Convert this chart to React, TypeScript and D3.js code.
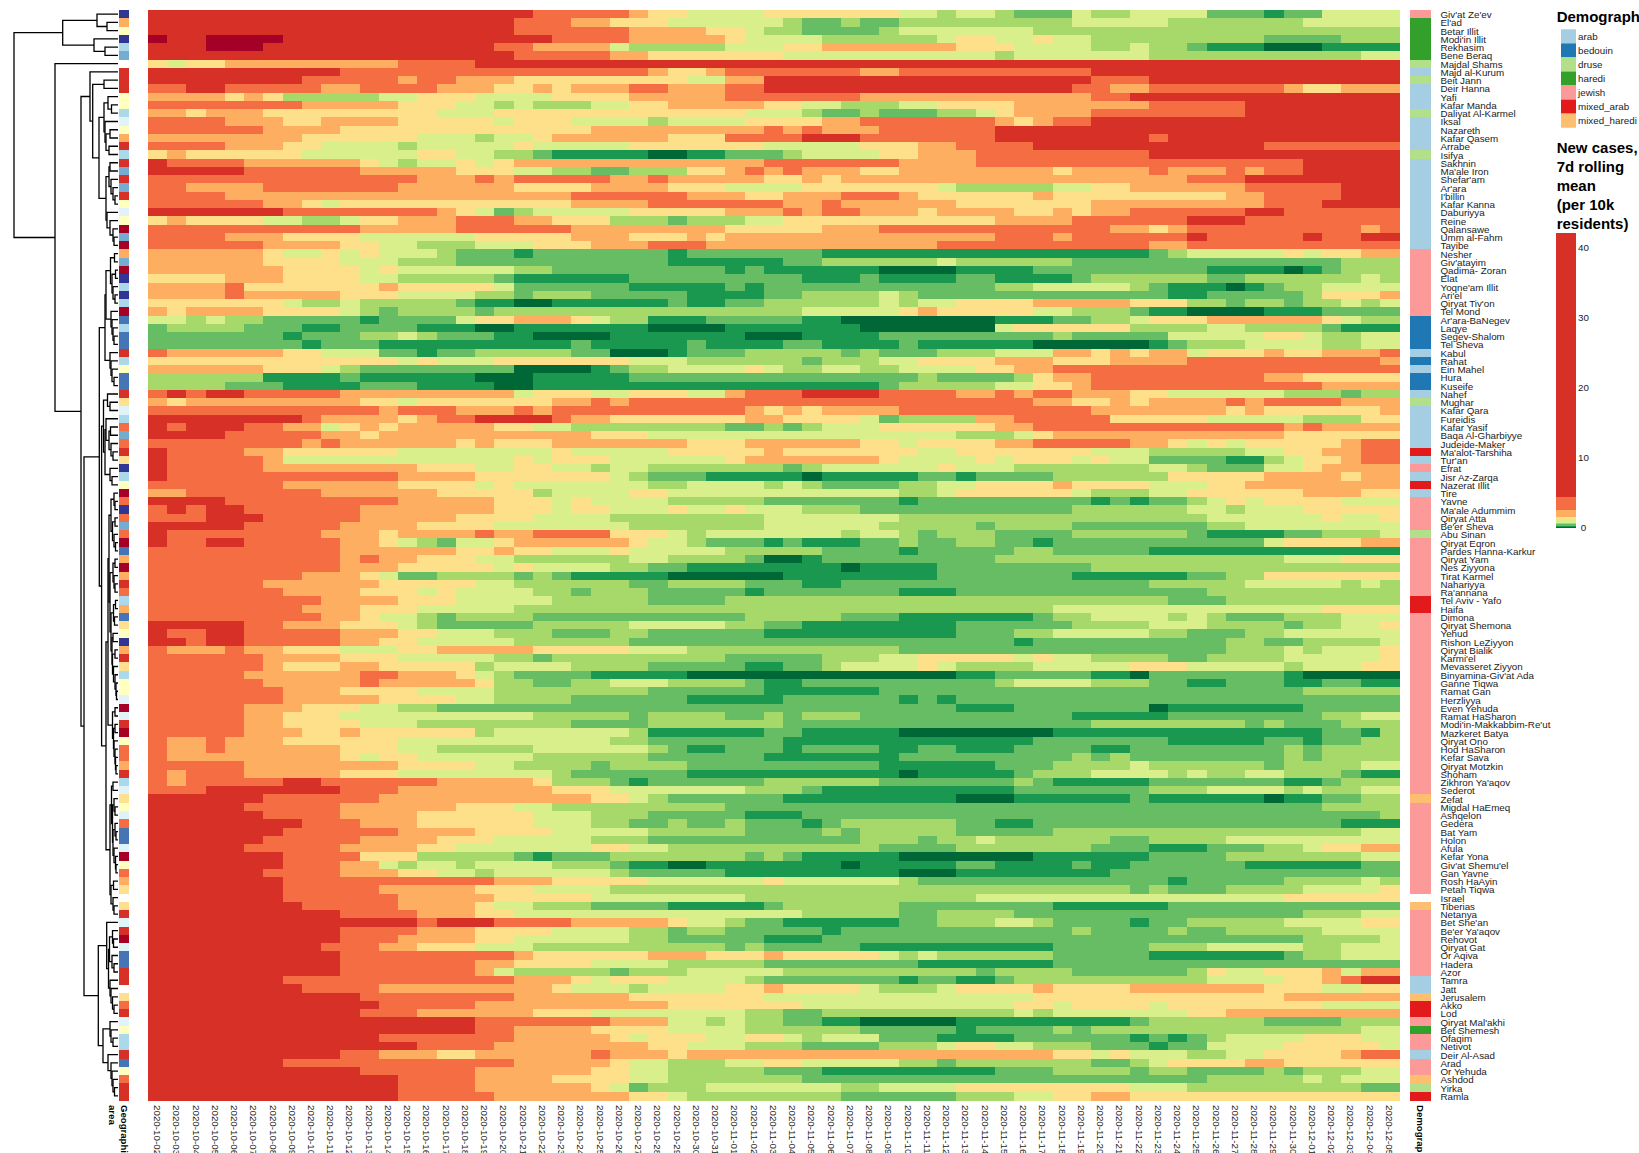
import React, {useRef, useEffect} from 'react';
import * as d3 from 'd3';

const rowNames = ["Giv'at Ze'ev","El'ad","Betar Illit","Modi'in Illit","Rekhasim","Bene Beraq","Majdal Shams","Majd al-Kurum","Beit Jann","Deir Hanna","Yafi","Kafar Manda","Daliyat Al-Karmel","Iksal","Nazareth","Kafar Qasem","Arrabe","Isifya","Sakhnin","Ma'ale Iron","Shefar'am","Ar'ara","I'billin","Kafar Kanna","Daburiyya","Reine","Qalansawe","Umm al-Fahm","Tayibe","Nesher","Giv'atayim","Qadima- Zoran","Elat","Yoqne'am Illit","Ari'el","Qiryat Tiv'on","Tel Mond","Ar'ara-BaNegev","Laqye","Segev-Shalom","Tel Sheva","Kabul","Rahat","Ein Mahel","Hura","Kuseife","Nahef","Mughar","Kafar Qara","Fureidis","Kafar Yasif","Baqa Al-Gharbiyye","Judeide-Maker","Ma'alot-Tarshiha","Tur'an","Efrat","Jisr Az-Zarqa","Nazerat Illit","Tire","Yavne","Ma'ale Adummim","Qiryat Atta","Be'er Sheva","Abu Sinan","Qiryat Eqron","Pardes Hanna-Karkur","Qiryat Yam","Nes Ziyyona","Tirat Karmel","Nahariyya","Ra'annana","Tel Aviv - Yafo","Haifa","Dimona","Qiryat Shemona","Yehud","Rishon LeZiyyon","Qiryat Bialik","Karmi'el","Mevasseret Ziyyon","Binyamina-Giv'at Ada","Ganne Tiqwa","Ramat Gan","Herzliyya","Even Yehuda","Ramat HaSharon","Modi'in-Makkabbim-Re'ut","Mazkeret Batya","Qiryat Ono","Hod HaSharon","Kefar Sava","Qiryat Motzkin","Shoham","Zikhron Ya'aqov","Sederot","Zefat","Migdal HaEmeq","Ashqelon","Gedera","Bat Yam","Holon","Afula","Kefar Yona","Giv'at Shemu'el","Gan Yavne","Rosh HaAyin","Petah Tiqwa","Israel","Tiberias","Netanya","Bet She'an","Be'er Ya'aqov","Rehovot","Qiryat Gat","Or Aqiva","Hadera","Azor","Tamra","Jatt","Jerusalem","Akko","Lod","Qiryat Mal'akhi","Bet Shemesh","Ofaqim","Netivot","Deir Al-Asad","Arad","Or Yehuda","Ashdod","Yirka","Ramla"];

const dates = d3.utcDay.range(new Date(Date.UTC(2020,9,2)), new Date(Date.UTC(2020,11,6))).map(d3.utcFormat("%Y-%m-%d"));

// colour class per town and day, "level then count" runs: "113" = class 1 for 13 days
const caseBinRows = [
"113 17 25 31 42 54 47 52 61 52 61 73 51 62 54 73 81 72 54",
"113 16 23 32 43 56 61 72 61 72 69 55 67 55",
"113 16 26 34 42 51 62 74 61 57 619",
"01 12 04 16 18 24 35 41 54 66 51 42 52 41 52 69 74 63",
"13 03 17 15 22 34 51 65 53 42 37 43 54 62 51 62 71 83 93 84",
"113 16 25 32 47 511 61 57 611 52",
"41 51 42 39 24 148",
"110 23 213 31 42 31 27 32 210 116",
"18 25 31 22 33 49 52 32 117 23 113",
"22 12 25 32 22 22 33 42 31 41 33 22 33 22 116 22 32 27 31 42 33",
"34 41 31 41 65 51 51 43 54 44 35 27 312 22 114",
"28 35 43 52 61 51 63 52 42 35 42 52 63 52 44 37 25 18",
"32 41 33 47 42 53 413 53 61 72 61 73 62 51 41 34 28 18",
"24 33 42 34 45 51 43 54 61 54 44 32 27 31 41 31 22 116",
"26 34 43 410 39 21 31 21 33 26 121",
"38 45 41 53 61 52 41 36 43 24 13 27 18 21 112",
"24 33 42 54 61 55 41 55 47 55 43 32 24 112 27",
"41 31 46 55 51 42 52 62 71 85 92 82 73 61 54 42 33 29 113",
"11 24 36 41 51 61 52 41 51 41 313 27 34 217 15",
"15 26 32 33 43 52 62 72 63 42 31 21 31 21 33 42 38 41 34 21 33 21 31 22 15",
"213 21 33 21 31 25 32 21 35 42 31 41 318 23 18",
"22 34 27 36 44 34 43 54 47 51 65 52 42 36 25 13",
"24 39 39 26 33 42 33 23 31 46 31 49 32 24 13",
"26 32 41 51 43 49 34 27 32 21 36 47 39 23 14",
"17 26 22 31 41 51 71 61 55 45 33 21 31 22 33 41 34 42 31 41 32 26 12 26",
"41 31 44 52 62 51 42 33 23 32 43 63 71 63 52 411 34 26 13 28",
"211 32 33 26 38 45 33 212 32 41 31 29 31 21",
"24 33 44 52 54 45 33 43 31 41 314 23 31 26 11 25 11 22 12",
"26 34 42 51 51 63 53 43 33 23 312 211 32 211",
"36 41 52 41 51 41 51 52 61 73 81 77 81 77 817 71 61 55 41 51 42 32",
"36 44 53 63 711 86 72 66 51 66 714 63",
"37 44 51 41 56 62 79 81 71 86 94 84 79 84 91 81 71 63",
"44 33 44 52 65 71 86 79 83 71 84 72 84 71 66 72 66 51 61",
"34 21 47 31 45 51 76 85 71 81 712 62 55 61 71 83 91 81 71 62 54",
"34 21 35 43 54 62 71 63 75 84 72 64 51 61 713 82 75 61 43 31",
"47 51 62 51 62 63 71 82 92 86 71 82 72 66 51 61 52 44 35 43 62 71 62 71 62 51 61 51",
"31 41 34 44 51 61 71 64 71 616 55 41 31 45 52 63 71 82 94 83 74",
"52 61 51 62 75 81 71 73 51 42 33 41 51 62 83 75 82 98 83 72 62 51 43 36 41 51 62",
"71 64 73 82 73 71 83 92 87 94 87 97 51 46 64 52 64 71 83",
"77 81 73 62 51 61 73 82 94 87 93 84 79 61 75 55 42 51 62 52",
"78 81 73 81 89 71 85 71 84 72 84 71 86 96 81 71 63 54 62 52",
"21 36 42 53 71 71 81 72 65 72 93 81 73 65 71 61 73 63 53 32 41 31 41 32 51 43 31 42 33 21",
"413 51 41 53 47 53 66 71 63 52 44 33 43 34 210 31",
"36 43 51 61 72 76 94 81 71 62 54 41 51 62 52 62 54 42 32 218",
"66 84 71 82 84 93 85 715 61 74 61 41 32 29 32 45",
"64 73 84 72 71 84 92 818 71 65 52 42 31 212 34",
"21 11 21 12 25 33 36 51 43 52 43 52 31 23 14 24 32 21 31 22 33 42 56 63 71 62",
"31 41 39 42 51 47 32 21 31 221 32 42 31 41 34 21 31 24 33",
"212 31 23 33 21 31 210 31 41 31 41 34 210 37 41 31 46 31",
"18 21 34 41 31 22 14 21 32 47 32 44 51 71 64 32 25 45 55 63 42",
"11 21 13 22 32 51 41 31 41 35 42 52 68 72 61 71 61 53 46 32 213 31 21 34",
"14 25 32 41 31 310 43 516 63 51 41 312 46",
"28 31 21 33 33 41 31 43 37 43 36 42 51 44 32 25 32 41 51 41 51 45 31 22",
"11 24 32 46 58 41 55 45 31 47 52 47 53 65 52 42 32 22",
"11 25 31 56 56 41 51 43 56 41 37 41 54 41 51 43 51 41 52 74 82 61 51 42 31 22",
"11 25 37 31 43 52 42 52 61 52 67 71 61 56 41 53 67 52 61 73 52 41 34",
"11 212 34 47 51 61 73 85 91 85 72 81 74 66 45 34 41 32",
"27 36 44 51 41 57 62 54 61 51 61 74 62 52 44 31 44 53 42 38",
"32 27 34 32 45 61 54 42 512 62 51 46 51 63 52 46 33 42",
"14 29 35 43 51 41 54 65 77 81 79 81 71 81 72 61 51 41 51 44 53",
"21 11 21 12 26 32 35 43 51 42 53 41 52 41 53 63 711 66 52 61 53 45",
"23 13 25 32 33 44 54 68 57 616 56 41 52 41",
"15 25 33 31 44 57 67 56 65 71 64 77 62 58",
"11 28 33 41 34 21 32 24 43 51 61 57 61 52 61 71 63 74 66 71 84 72 63 51",
"11 22 12 25 32 41 51 61 71 52 41 36 41 52 61 73 81 71 83 72 61 72 62 72 81 711 51 44 32",
"210 33 33 42 31 42 53 41 55 65 74 81 75 62 75 813",
"210 31 21 31 31 43 52 66 52 64 71 92 81 79 615 53 43",
"210 33 45 51 41 54 62 72 88 91 84 78 616",
"28 33 41 51 72 64 71 61 71 85 96 88 77 86 72 62 47",
"26 36 41 44 52 66 72 64 73 82 716 65 55 61 51 61",
"27 34 42 41 51 41 54 62 71 63 75 81 77 83 713 610",
"29 34 43 55 65 74 623 73 69",
"28 33 42 41 55 628 514 44",
"29 32 41 51 51 61 71 64 711 65 73 87 71 62 54 61 51 61 73 63 53",
"15 22 33 43 51 61 75 65 55 62 72 88 76 64 53 64 71 62 52 41",
"11 22 12 25 33 42 53 63 73 62 76 810 73 62 55 62 73 62 56",
"12 21 12 25 32 41 41 55 66 720 81 710 62 72 64 51",
"21 33 21 32 43 53 42 35 45 53 611 717 63 51 61 53 41",
"26 34 43 55 62 71 69 75 63 52 45 51 41 52 64 72 64 55 41",
"26 31 43 32 41 44 61 54 64 75 82 72 61 54 41 51 64 55 43 55 61 53 42",
"25 36 22 33 41 51 61 74 85 914 82 75 82 91 77 81 95",
"26 35 21 31 34 41 62 72 62 53 64 71 82 710 61 54 63 72 82 73 82 72 82",
"27 33 43 41 54 68 76 86 722 65",
"27 35 41 43 52 64 76 85 76 81 71 81 723",
"25 33 43 52 62 727 83 77 91 87 75",
"25 32 43 53 57 65 71 64 72 61 71 63 711 85 78 62 52",
"25 32 44 52 51 68 74 67 716 68 71 61 73 63",
"25 33 42 31 42 44 61 57 61 86 72 85 98 814 72 81 61",
"21 32 21 33 46 511 62 77 813 77 85 72 81 72 62",
"21 32 21 36 43 52 65 56 61 71 82 73 81 74 82 72 83 74 82 78 61 71 64",
"21 39 41 51 41 41 56 66 76 87 79 61 71 61 78 61 71 64",
"25 38 44 52 64 71 64 710 86 73 64 51 66 71 64 52",
"21 31 23 35 43 58 61 76 811 91 85 71 63 54 61 51 62 52 63 71 82",
"21 31 25 12 24 22 35 41 63 71 81 76 66 77 61 71 85 77 82 71 63",
"23 17 23 38 43 57 63 71 810 77 63 54 61 51 62 52",
"16 26 31 310 42 51 61 76 89 93 86 71 86 91 82 72 62",
"15 25 33 33 43 52 69 731 64",
"16 24 33 31 46 53 63 75 83 730 61",
"18 23 32 31 46 53 62 72 61 72 61 73 81 71 66 72 82 716 83",
"17 26 34 44 55 65 74 61 71 65 75 616 52",
"16 25 32 32 43 55 63 711 63 71 62 51 66 72 64 59",
"15 25 33 31 42 57 42 52 611 74 67 73 83 73 62 51 42 32",
"17 24 42 41 65 71 81 73 67 71 61 71 85 97 86 74 67 52",
"17 23 32 51 61 52 61 54 63 71 82 92 87 91 85 72 84 71 82 76 86 72",
"16 24 33 42 52 61 56 61 75 89 93 88 715",
"17 26 25 33 45 56 41 56 61 713 81 75 64 51 61",
"17 25 31 34 43 54 627 71 61 73 64 54 41",
"17 26 35 45 58 612 516 46",
"18 25 34 41 52 63 74 85 71 66 78 86 712",
"110 23 21 33 42 515 65 72 64 715 63 52",
"113 11 21 13 24 35 41 52 61 72 86 72 63 52 61 74 81 72 65 54 42",
"110 23 21 33 44 54 62 71 62 75 81 712 61 74 61 72 65 54",
"110 23 34 42 56 62 75 83 725 64 51",
"19 23 31 31 43 53 610 71 61 75 810 75 63 55 62 53",
"110 23 26 31 46 33 43 31 45 51 61 51 66 75 87 71 62 53",
"110 23 24 32 44 54 65 78 87 718",
"110 23 24 31 51 65 71 63 55 610 71 64 76 61 41 52 43 31 51 32",
"17 26 26 33 41 51 43 54 61 77 81 72 82 71 610 54 42 31 21 12",
"18 24 31 38 41 53 61 54 42 31 44 51 63 51 44 31 44 37 43 52 42",
"111 22 26 36 47 514 413 36",
"112 21 24 310 47 511 42 51 44 51 48 54",
"111 22 21 36 43 58 62 72 610 51 61 57 42 39",
"113 14 27 33 52 61 51 62 72 82 95 89 71 66 74 63",
"113 14 22 34 44 54 66 75 81 74 61 71 614 52",
"112 21 26 35 41 51 43 52 42 51 61 53 73 84 76 81 71 81 71 61 54 43 52",
"113 11 24 38 42 53 63 74 63 51 42 52 63 73 81 72 54 45 51",
"110 22 31 32 42 36 21 33 41 319 42 51 41 53 62 52 44 31 22",
"17 26 26 35 41 52 63 52 42 55 62 71 67 72 61 51 44 32 46",
"111 22 24 36 42 52 65 73 89 73 64 71 62 74 61 71 63 52",
"113 24 34 44 52 67 721 65 51 61 53",
"113 24 36 41 51 71 63 57 62 54 49 53 69 72",
"113 25 37 42 51 68 76 63 52 42 32 414",
];

// geographic area rank per row, a (lowest) .. k (highest), "-" for no value
const geoCodes = "a h f a d c - j j j f f d e f h j d j c j c j f e f k c k h c k a d a d k b d b b j d f b b j g e d i c i j g a d f k i a i c i k b h k h j i d h b g f a h j g d f f e k e j k f i i h j d e g f e i b b e k f i h g - g j e j k e b b j j - g i j e f d d j b f i j j".split(" ");
const geoDomain = "abcdefghijk".split("");

const demoNames = ["arab","bedouin","druse","haredi","jewish","mixed_arab","mixed_haredi"];
const demoKeys = "ABDHJMX".split("");
const demoCodes = "JHHHHHDADAAADAAAADAAAAAAAAAAAJJJJJJJJBBBBABABBADAAAAAMAJAMAJJJJDJJJJJJJMMJJJJJJJJJJJJJJJJJJJJJJXJJJJJJJJJJJ-XJJJJJJJJAAXMMJHJJAJJXDM".split("");
const demoColors = ["#a6cee3","#1f78b4","#b2df8a","#33a02c","#fb9a99","#e31a1c","#fdbf6f"];

// row dendrogram: [merge height, child, child], numbers are row indexes
const g1 = [28, 7, [25.3, [14, 8, 9], [19,
  [14, [10, 10, [6.5, 11, 12]], [13, 13, [12, [8, 14, 15], [9, 16, 17]]]],
  [12, [9, [8, 18, 19], [7, 20, [5, 21, [3, 22, 23]]]], [11, 24, [8, 25, [5, 26, [4, 27, 28]]]]]]]];
const g2 = [13, [12, [7.5, [3.5, 29, 30], [6, [2.5, 31, 32], [5, 33, [3, 34, 35]]]], [7, 36, [6, 37, [5, 38, [4, 39, 40]]]]],
  [8, 41, [7, 42, [6, 43, [4, 44, 45]]]]];
const g3a = [14.5, [10.5, 46, [8, 47, 48]], [13, [12, 49, [9, [7.5, 50, 51], [7, 52, [5, 53, 54]]]], [8, 55, [6, 56, 57]]]];
const g3b = [10, [9, [7, [4, 58, [3, 59, 60]], [5.5, [3, 61, 62], [4, 63, [2.5, 64, 65]]]],
  [8, [5, [3, 66, 67], [4, 68, [3, 69, 70]]], [7, [4.5, [2.5, 71, 72], [3.5, 73, 74]], [6, [5, 75, 76], [5.5, [3, 77, 78], [4.5, 79, [3, 80, [2, 81, [1.5, 82, 83]]]]]]]]],
  [5.5, [3, 84, 85], [4.5, [3, 86, 87], [4, 88, [3, 89, [2.5, 90, [2, 91, 92]]]]]]];
const g3c = [8, [6.5, [5, 93, 94], [5.5, [4, 95, [3, 96, 97]], [5, [3, 98, [2, 99, 100]], [4, 101, [2.5, 102, [2, 103, 104]]]]]],
  [7, [4.5, 105, 106], [5, 107, [4, 108, 109]]]];
const g4 = [19.7, [11.3, 110, [9.5, [8.5, [5.5, 111, [4.5, 112, 113]], [6, 114, [4, 115, 116]]], [8, 117, [7, 118, [5.5, 119, [4, 120, 121]]]]]],
  [15, [8, 122, [7, 123, [5, 124, 125]]], [10, 126, [7, 127, [6, 128, [5, 129, [3.5, 130, 131]]]]]]];
const dendrogram = [104,
  [55.3, [21, 0, [11, 1, 2]], [24, 3, [13, 4, 5]]],
  [63, 6, [37, g1, [34, [18.7, g2, [16.4, g3a, [12, g3b, g3c]]], g4]]]];

const legendBands = [42, 4.3, 2.4, 1.4, 1.1, 0.6, 0.4, 0.2, 0.05, -0.2];
const legendLevels = [1, 2, 3, 4, 5, 6, 7, 8, 9];
const legendTicks = [0, 10, 20, 30, 40];
const legendTitle = ["New cases,", "7d rolling", "mean", "(per 10k", "residents)"];

const parseRow = (s: string) => s.split(" ").flatMap(t => d3.range(+t.slice(1)).map(() => +t[0]));

function App() {
    const canvas = useRef<HTMLDivElement>(null);

    useEffect(() => {
        const font = '"Liberation Sans", Arial, sans-serif';
        d3.select(canvas.current).select('svg').remove();
        const svg = d3.select(canvas.current).append('svg')
            .attr('width', 1639).attr('height', 1153)
            .style('position', 'absolute').style('left', 0).style('top', 0)
            .style('font-family', font);

        const x = d3.scaleBand().domain(dates).range([148, 1399]);
        const y = d3.scaleBand().domain(rowNames).range([10, 1100]);
        const heatColors = d3.schemeRdYlGn[11].filter(c => c !== '#ffffbf');
        const heat = d3.scaleOrdinal<number, string>().domain(d3.range(10)).range(heatColors);
        const geo = d3.scaleOrdinal<string, string>().domain(geoDomain).range([...d3.schemeRdYlBu[11]].reverse());
        const demo = d3.scaleOrdinal<string, string>().domain(demoKeys).range(demoColors);

        // heatmap
        const cells = svg.append('g').attr('shape-rendering', 'crispEdges');
        caseBinRows.forEach((row, i) => {
            const levels = parseRow(row);
            cells.append('g').selectAll('rect').data(dates).enter().append('rect')
                .attr('x', d => x(d))
                .attr('y', y(rowNames[i]))
                .attr('width', x.bandwidth() + 0.5)
                .attr('height', y.bandwidth() + 0.5)
                .attr('fill', (d, j) => heat(levels[j] ?? 4));
        });

        // annotation bars
        const bars = svg.append('g').attr('shape-rendering', 'crispEdges');
        bars.selectAll('.geo').data(rowNames).enter().append('rect')
            .attr('x', 119).attr('width', 10)
            .attr('y', d => y(d)).attr('height', y.bandwidth() + 0.5)
            .attr('fill', (d, i) => geoCodes[i] === '-' ? 'none' : geo(geoCodes[i]));
        bars.selectAll('.demo').data(rowNames).enter().append('rect')
            .attr('x', 1410).attr('width', 21)
            .attr('y', d => y(d)).attr('height', y.bandwidth() + 0.5)
            .attr('fill', (d, i) => demoCodes[i] === '-' ? 'none' : demo(demoCodes[i]));

        // dendrogram
        const dendX = d3.scaleLinear().domain([0, 104]).range([118, 14]);
        const root: any = d3.hierarchy<any>(dendrogram, d => Array.isArray(d) ? d.slice(1) : null);
        root.eachAfter((n: any) => {
            if (n.children) {
                n.px = dendX(n.data[0]);
                n.py = d3.mean(n.children, (c: any) => c.py);
            } else {
                n.px = dendX(0);
                n.py = y(rowNames[n.data])! + y.bandwidth() / 2;
            }
        });
        svg.append('g').selectAll('path')
            .data(root.descendants().filter((n: any) => n.children)).enter().append('path')
            .attr('d', (n: any) => {
                const [a, b] = n.children;
                return `M${a.px},${a.py}H${n.px}V${b.py}H${b.px}`;
            })
            .attr('fill', 'none').attr('stroke', '#000').attr('stroke-width', 1.3);

        // row labels
        svg.append('g').selectAll('text').data(rowNames).enter().append('text')
            .attr('x', 1440.5)
            .attr('y', d => y(d)! + y.bandwidth() / 2 + 4)
            .attr('font-size', 9.8).attr('fill', '#222')
            .text(d => d);

        // date labels
        svg.append('g').selectAll('text').data(dates).enter().append('text')
            .attr('transform', d => `translate(${x(d)! + x.bandwidth() / 2 - 3.6},1105) rotate(90)`)
            .attr('font-size', 9.8).attr('fill', '#222')
            .text(d => d);

        // annotation titles
        const bottomTitle = (s: string, px: number) => svg.append('text')
            .attr('transform', `translate(${px},1105) rotate(90)`)
            .attr('font-size', 9.6).attr('font-weight', 'bold').attr('fill', '#000')
            .text(s);
        bottomTitle('Geographic', 120.5);
        bottomTitle('area', 108.5);
        bottomTitle('Demographic', 1417);

        // legends
        svg.append('text').attr('x', 1556.7).attr('y', 21.5)
            .attr('font-size', 15).attr('font-weight', 'bold').text('Demographic');
        const sw = d3.scaleBand().domain(demoNames).range([29.3, 127.7]);
        const swatches = svg.append('g').selectAll('g').data(demoNames).enter().append('g');
        swatches.append('rect')
            .attr('x', 1561).attr('y', d => sw(d)).attr('width', 15).attr('height', sw.bandwidth())
            .attr('fill', (d, i) => demoColors[i]);
        swatches.append('text')
            .attr('x', 1578).attr('y', d => sw(d)! + sw.bandwidth() / 2 + 3.5)
            .attr('font-size', 9.8).attr('fill', '#222').text(d => d);

        svg.append('g').selectAll('text').data(legendTitle).enter().append('text')
            .attr('x', 1556.7).attr('y', (d, i) => 152.7 + i * 19)
            .attr('font-size', 15).attr('font-weight', 'bold').text(d => d);

        const ramp = d3.scaleLinear().domain([0, 40]).range([527, 247]);
        svg.append('g').attr('shape-rendering', 'crispEdges').selectAll('rect').data(legendLevels).enter().append('rect')
            .attr('x', 1556).attr('width', 20)
            .attr('y', (d, i) => ramp(legendBands[i]))
            .attr('height', (d, i) => ramp(legendBands[i + 1]) - ramp(legendBands[i]))
            .attr('fill', d => heat(d));
        svg.append('g').selectAll('text').data(legendTicks).enter().append('text')
            .attr('x', 1583.5).attr('y', d => ramp(d) + 3.5)
            .attr('text-anchor', 'middle').attr('font-size', 9.8).attr('fill', '#222')
            .text(d => d);
    }, []);

    return <div ref={canvas}></div>;
}

export default App;
